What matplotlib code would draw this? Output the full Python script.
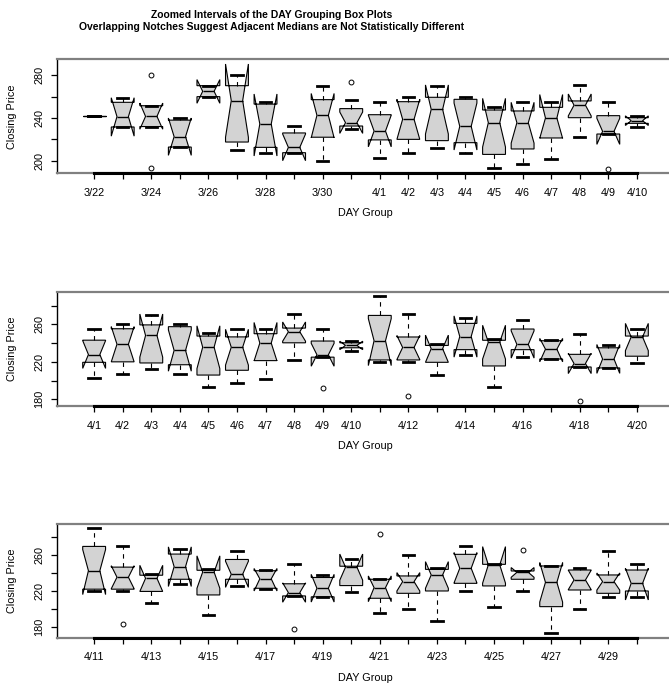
"""
DAY グループ別の終値ボックスプロット (ノッチ付き) を 3 段で描く。
"""
import matplotlib
matplotlib.use("Agg")
from matplotlib import pyplot as plt

plt.rcParams["font.family"] = ["Liberation Sans", "DejaVu Sans"]

# 日付ラベル (3/22 - 4/30)
days = ["3/%d" % d for d in range(22, 32)] + ["4/%d" % d for d in range(1, 31)]

# 各日の統計量
whislo = [242.2, 231.6, 232.0, 212.8, 260.0, 210.0, 207.2, 207.5, 200.0, 229.4,
          202.5, 207.5, 212.2, 207.5, 192.8, 196.9, 201.9, 222.3, 225.0, 231.5,
          220.2, 220.2, 206.2, 227.5, 193.4, 225.0, 222.7, 214.5, 213.0, 218.5,
          196.0, 200.0, 187.0, 220.0, 202.6, 220.0, 173.0, 200.0, 213.0, 213.0]
q1 = [242.2, 231.6, 232.0, 212.8, 260.0, 217.5, 212.5, 207.5, 222.0, 232.5,
      219.5, 220.0, 218.8, 216.9, 205.9, 211.0, 221.3, 240.3, 225.0, 235.0,
      222.0, 222.0, 219.5, 233.0, 215.6, 233.0, 223.0, 214.5, 213.5, 226.0,
      211.9, 217.4, 220.0, 228.5, 225.6, 233.0, 202.6, 221.1, 217.4, 220.0]
med = [242.2, 241.3, 241.5, 222.5, 265.0, 256.3, 234.4, 212.5, 242.5, 235.6,
       227.8, 238.8, 248.1, 232.2, 235.6, 235.6, 240.0, 252.0, 227.5, 237.5,
       242.5, 235.3, 234.0, 247.0, 241.0, 238.6, 233.5, 218.2, 223.0, 246.5,
       223.7, 230.4, 237.8, 245.2, 249.0, 240.7, 229.6, 232.2, 230.4, 228.5]
q3 = [242.2, 254.7, 251.5, 238.0, 270.3, 270.3, 253.0, 226.0, 257.2, 248.8,
      243.1, 255.3, 259.4, 257.5, 247.5, 246.6, 250.0, 256.0, 242.2, 240.3,
      269.5, 246.5, 237.5, 261.0, 243.0, 255.0, 242.5, 228.0, 235.0, 247.5,
      233.0, 236.7, 244.0, 260.7, 249.6, 242.2, 247.8, 243.3, 237.8, 243.3]
whishi = [242.2, 259.0, 251.5, 240.3, 270.3, 280.6, 255.3, 232.8, 270.3, 256.9,
          255.0, 260.0, 270.3, 260.0, 250.6, 254.7, 255.0, 270.6, 255.0, 242.3,
          290.5, 270.5, 238.7, 266.4, 244.5, 264.7, 243.0, 250.2, 238.0, 255.5,
          233.0, 260.0, 245.2, 270.4, 249.6, 242.2, 247.8, 245.2, 264.8, 250.0]
notch_lo = [242.2, 223.0, 229.5, 205.0, 253.8, 222.0, 204.4, 200.0, 221.5, 225.6,
            213.0, 220.0, 225.0, 210.0, 212.8, 216.5, 221.0, 242.0, 215.3, 233.0,
            216.0, 222.5, 219.5, 225.0, 223.0, 224.0, 220.0, 207.5, 207.7, 232.0,
            208.1, 220.0, 223.0, 229.0, 228.7, 235.2, 207.7, 221.5, 221.0, 210.0]
notch_hi = [242.2, 259.0, 254.0, 240.0, 276.0, 290.6, 262.5, 225.0, 263.0, 245.6,
            242.6, 257.5, 271.0, 254.0, 258.4, 254.7, 262.0, 262.5, 239.7, 242.0,
            266.0, 248.0, 248.5, 269.0, 259.0, 253.0, 245.0, 229.0, 238.5, 261.0,
            236.7, 240.4, 252.6, 262.6, 269.3, 246.0, 251.5, 243.0, 240.0, 245.2]
outliers = {"3/24": [280.6, 192.8], "3/31": [274.0], "4/9": [192.2],
            "4/12": [183.8], "4/18": [177.7], "4/21": [283.3], "4/26": [265.6]}

W, H = 669, 689
# (開始インデックス, 上端px, 下端px, y 範囲, y 目盛)
panels = [(0, 59.3, 173.3, (188.2, 295.0), [200, 220, 240, 260, 280]),
          (10, 291.7, 406.0, (172.9, 294.8), [180, 200, 220, 240, 260, 280]),
          (20, 524.0, 637.7, (168.1, 294.4), [180, 200, 220, 240, 260, 280])]

fig = plt.figure(figsize=(W / 100, H / 100), dpi=100)
axes = []
for start, top, bot, ylim, yticks in panels:
    ax = fig.add_axes([57 / W, 1 - bot / H, 617 / W, (bot - top) / H])
    stats = []
    for i in range(start, start + 20):
        stats.append(dict(label=days[i], whislo=whislo[i], q1=q1[i], med=med[i],
                          q3=q3[i], whishi=whishi[i], cilo=notch_lo[i],
                          cihi=notch_hi[i], fliers=outliers.get(days[i], [])))
    ax.bxp(stats, positions=range(1, 21), widths=0.8, shownotches=True,
           patch_artist=True,
           boxprops=dict(facecolor="#d3d3d3", edgecolor="black", linewidth=0.8),
           whiskerprops=dict(color="black", linewidth=0.8, linestyle=(0, (4, 4))),
           capprops=dict(color="black", linewidth=2),
           medianprops=dict(color="black", linewidth=1),
           flierprops=dict(marker="o", markersize=3.5, markerfacecolor="none",
                           markeredgecolor="black", markeredgewidth=0.7))
    ax.set_xlim(-0.3, 21.3)
    ax.set_ylim(*ylim)
    ax.set_yticks(yticks)
    ax.set_yticklabels([str(v) for v in yticks], rotation=90, va="center")
    for s in ("top", "bottom", "right"):
        ax.spines[s].set_color("#808080")
        ax.spines[s].set_linewidth(1.6)
    ax.spines["left"].set_color("black")
    ax.spines["left"].set_linewidth(1.0)
    ax.plot([1, 20], [ylim[0], ylim[0]], color="black", lw=2.2, clip_on=False, zorder=5)
    ax.tick_params(axis="x", direction="out", length=4.5, width=0.9, labelsize=7.8, pad=6)
    ax.tick_params(axis="y", direction="out", length=4.5, width=0.9, labelsize=7.8, pad=4.5)
    fig.text(365.5 / W, 1 - (bot + 40) / H, "DAY Group", fontsize=7.8, ha="center", va="center")
    fig.text(12 / W, 1 - (top + bot) / 2 / H, "Closing Price", fontsize=7.8,
             rotation=90, ha="center", va="center")
    axes.append(ax)

# 重なる目盛ラベルを省く (R の axis と同じ動き)
fig.canvas.draw()
for ax in axes:
    for horiz in (True, False):
        labels = ax.get_xticklabels() if horiz else ax.get_yticklabels()
        texts = []
        last = -1e9
        for t in labels:
            bb = t.get_window_extent()
            lo, hi = (bb.x0, bb.x1) if horiz else (bb.y0, bb.y1)
            if lo < last + 8:
                texts.append("")
            else:
                texts.append(t.get_text())
                last = hi
        if horiz:
            ax.set_xticklabels(texts)
        else:
            ax.set_yticklabels(texts, rotation=90, va="center")

fig.text(272 / W, 1 - 15 / H, "Zoomed Intervals of the DAY Grouping Box Plots",
         fontsize=7.5, fontweight="bold", ha="center", va="center")
fig.text(272 / W, 1 - 27 / H,
         "Overlapping Notches Suggest Adjacent Medians are Not Statistically Different",
         fontsize=7.5, fontweight="bold", ha="center", va="center")

fig.savefig("out.png", dpi=100)
